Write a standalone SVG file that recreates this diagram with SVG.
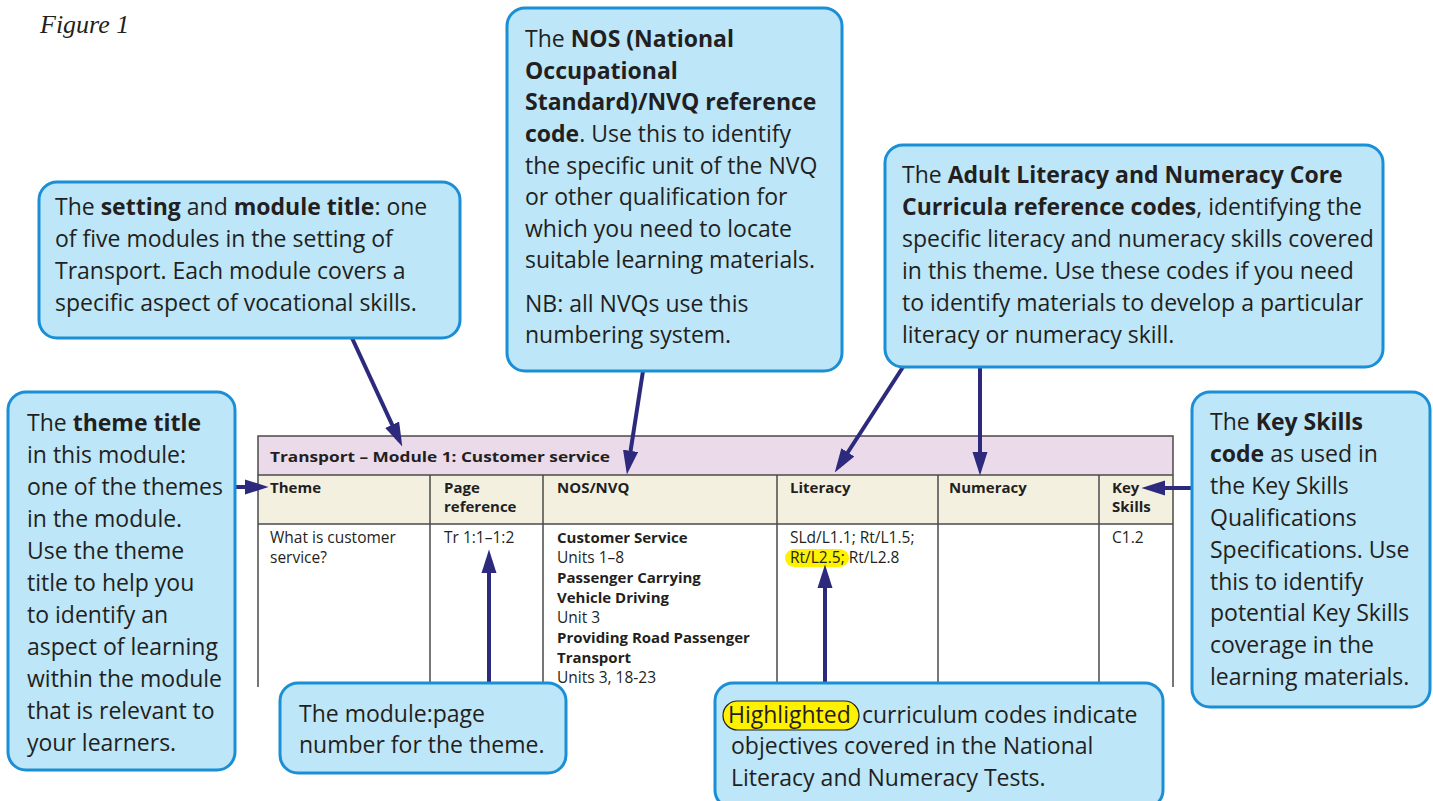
<svg xmlns="http://www.w3.org/2000/svg" width="1433" height="801" viewBox="0 0 1433 801">
<style>
.box{fill:#bde6f9;stroke:#1b8fd6;stroke-width:3}
.t{font-family:"Open Sans","Liberation Sans",sans-serif;font-size:23px;fill:#231f20}
.b{font-weight:bold}
.tb{font-family:"Open Sans","Liberation Sans",sans-serif;font-size:15.5px;fill:#231f20}
.th{font-family:"Open Sans","Liberation Sans",sans-serif;font-size:15px;font-weight:bold;fill:#231f20}
.grid{stroke:#4a4a4a;stroke-width:1.5;fill:none}
.arr{stroke:#2d2a7d;stroke-width:4;fill:none;marker-end:url(#ah)}
</style>
<defs>
<marker id="ah" markerUnits="userSpaceOnUse" markerWidth="24" markerHeight="16" refX="16" refY="7" orient="auto" viewBox="0 0 22 14">
<path d="M0,0 L22,7 L0,14 Z" fill="#2d2a7d"/>
</marker>
</defs>
<rect width="1433" height="801" fill="#ffffff"/>
<text x="40" y="33" font-family="'Liberation Serif',serif" font-style="italic" font-size="26" fill="#231f20">Figure 1</text>

<g id="table">
<rect x="258" y="436" width="915" height="39" fill="#ebdaea"/>
<rect x="258" y="475" width="915" height="49" fill="#f3f0e0"/>
<rect x="258" y="524" width="915" height="163" fill="#ffffff"/>
<path class="grid" d="M258,687 V436 H1173 V687 M258,475 H1173 M258,524 H1173 M430,475 V687 M543,475 V687 M777,475 V687 M938,475 V687 M1099,475 V687"/>
<text class="th" x="270" y="462" font-size="18" textLength="340" lengthAdjust="spacingAndGlyphs">Transport – Module 1: Customer service</text>
<text class="th" x="270" y="493">Theme</text>
<text class="th" x="444" y="493">Page</text>
<text class="th" x="444" y="512">reference</text>
<text class="th" x="557" y="493">NOS/NVQ</text>
<text class="th" x="790" y="493">Literacy</text>
<text class="th" x="949" y="493">Numeracy</text>
<text class="th" x="1112" y="493">Key</text>
<text class="th" x="1112" y="512">Skills</text>
<text class="tb" x="270" y="543">What is customer</text>
<text class="tb" x="270" y="563">service?</text>
<text class="tb" x="444" y="543">Tr 1:1–1:2</text>
<text class="th" x="557" y="543">Customer Service</text>
<text class="tb" x="557" y="563">Units 1–8</text>
<text class="th" x="557" y="583">Passenger Carrying</text>
<text class="th" x="557" y="603">Vehicle Driving</text>
<text class="tb" x="557" y="623">Unit 3</text>
<text class="th" x="557" y="643">Providing Road Passenger</text>
<text class="th" x="557" y="663">Transport</text>
<text class="tb" x="557" y="683">Units 3, 18-23</text>
<rect x="785" y="549" width="64" height="18" rx="9" fill="#fff200"/>
<text class="tb" x="790" y="543">SLd/L1.1; Rt/L1.5;</text>
<text class="tb" x="790" y="563">Rt/L2.5; Rt/L2.8</text>
<text class="tb" x="1112" y="543">C1.2</text>
</g>

<g id="connectors">
<line class="arr" x1="352" y1="338" x2="399.5" y2="440.6"/>
<line class="arr" x1="643" y1="371" x2="627.9" y2="468.1"/>
<line class="arr" x1="903" y1="367" x2="838.3" y2="467"/>
<line class="arr" x1="980" y1="367" x2="980" y2="469"/>
<line class="arr" x1="235" y1="487" x2="262" y2="487"/>
<line class="arr" x1="1192" y1="488" x2="1148" y2="488"/>
<line class="arr" x1="489" y1="683" x2="489" y2="556"/>
<line class="arr" x1="825" y1="683" x2="825" y2="571"/>
</g>

<g id="setting">
<rect class="box" x="39" y="182" width="421" height="156" rx="18"/>
<text class="t" x="55" y="215">The <tspan class="b">setting</tspan> and <tspan class="b">module title</tspan>: one</text>
<text class="t" x="55" y="247">of five modules in the setting of</text>
<text class="t" x="55" y="279">Transport. Each module covers a</text>
<text class="t" x="55" y="311">specific aspect of vocational skills.</text>
</g>

<g id="theme">
<rect class="box" x="8" y="392" width="227" height="378" rx="18"/>
<text class="t" x="27" y="431">The <tspan class="b">theme title</tspan></text>
<text class="t" x="27" y="463">in this module:</text>
<text class="t" x="27" y="495">one of the themes</text>
<text class="t" x="27" y="527">in the module.</text>
<text class="t" x="27" y="559">Use the theme</text>
<text class="t" x="27" y="591">title to help you</text>
<text class="t" x="27" y="623">to identify an</text>
<text class="t" x="27" y="655">aspect of learning</text>
<text class="t" x="27" y="687">within the module</text>
<text class="t" x="27" y="719">that is relevant to</text>
<text class="t" x="27" y="751">your learners.</text>
</g>

<g id="nos">
<rect class="box" x="507" y="8" width="335" height="363" rx="18"/>
<text class="t" x="525" y="47">The <tspan class="b">NOS (National</tspan></text>
<text class="t b" x="525" y="79">Occupational</text>
<text class="t b" x="525" y="110">Standard)/NVQ reference</text>
<text class="t" x="525" y="142"><tspan class="b">code</tspan>. Use this to identify</text>
<text class="t" x="525" y="174">the specific unit of the NVQ</text>
<text class="t" x="525" y="205">or other qualification for</text>
<text class="t" x="525" y="237">which you need to locate</text>
<text class="t" x="525" y="268">suitable learning materials.</text>
<text class="t" x="525" y="312">NB: all NVQs use this</text>
<text class="t" x="525" y="343">numbering system.</text>
</g>

<g id="curricula">
<rect class="box" x="885" y="145" width="498" height="222" rx="18"/>
<text class="t" x="902" y="183">The <tspan class="b">Adult Literacy and Numeracy Core</tspan></text>
<text class="t" x="902" y="215"><tspan class="b">Curricula reference codes</tspan>, identifying the</text>
<text class="t" x="902" y="247">specific literacy and numeracy skills covered</text>
<text class="t" x="902" y="279">in this theme. Use these codes if you need</text>
<text class="t" x="902" y="311">to identify materials to develop a particular</text>
<text class="t" x="902" y="343">literacy or numeracy skill.</text>
</g>

<g id="keyskills">
<rect class="box" x="1192" y="392" width="238" height="315" rx="18"/>
<text class="t" x="1210" y="430">The <tspan class="b">Key Skills</tspan></text>
<text class="t" x="1210" y="462"><tspan class="b">code</tspan> as used in</text>
<text class="t" x="1210" y="494">the Key Skills</text>
<text class="t" x="1210" y="526">Qualifications</text>
<text class="t" x="1210" y="558">Specifications. Use</text>
<text class="t" x="1210" y="590">this to identify</text>
<text class="t" x="1210" y="621">potential Key Skills</text>
<text class="t" x="1210" y="653">coverage in the</text>
<text class="t" x="1210" y="685">learning materials.</text>
</g>

<g id="modulepage">
<rect class="box" x="280" y="683" width="286" height="90" rx="18"/>
<text class="t" x="299" y="722">The module:page</text>
<text class="t" x="299" y="753">number for the theme.</text>
</g>

<g id="highlighted">
<rect class="box" x="715" y="683" width="448" height="125" rx="18"/>
<rect x="723" y="701" width="136" height="29" rx="14.5" fill="#fff200" stroke="#231f20" stroke-width="1.2"/>
<text class="t" x="728" y="723">Highlighted<tspan x="862">curriculum codes indicate</tspan></text>
<text class="t" x="731" y="754">objectives covered in the National</text>
<text class="t" x="731" y="786">Literacy and Numeracy Tests.</text>
</g>
</svg>
